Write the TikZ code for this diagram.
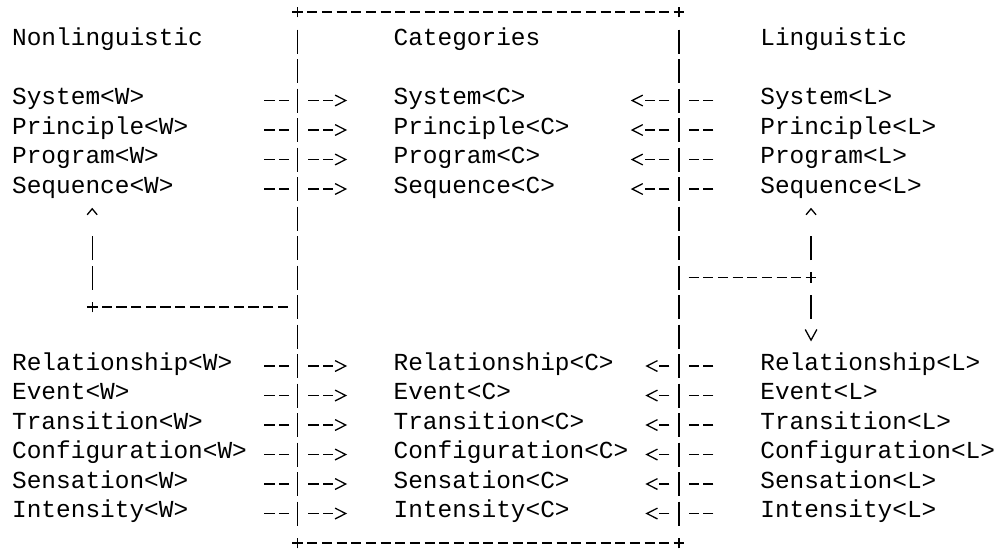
\documentclass[tikz,border=0pt]{standalone}
\usepackage{fontspec}
\usepackage{tikz}
\usetikzlibrary{arrows.meta}

\newfontfamily\asciifont{Liberation Mono}
\newcommand{\monofont}{\asciifont\fontsize{12.225pt}{14.75pt}\selectfont}
\newcommand{\plusmark}[1]{\draw (#1) ++(-2.7pt,0) -- ++(5.4pt,0) (#1) ++(0,-2.7pt) -- ++(0,5.4pt);}

\begin{document}
\begin{tikzpicture}[x=7.335pt,y=-14.75pt,line width=0.65pt,
    every node/.style={font=\monofont,inner sep=0pt,anchor=mid west},
    wlab/.style={text width=117.36pt,align=left},
    clab/.style={text width=117.36pt,align=left},
    hline/.style={dash pattern=on 5.08pt off 2.255pt,shorten <=4.795pt,shorten >=4.795pt},
    vline/.style={dash pattern=on 12pt off 2.75pt,shorten <=8.75pt,shorten >=8.75pt},
    gt/.style={-{Straight Barb[length=5.3pt,width=5.4pt]}},
    wtoc/.style={gt,dash pattern=on 5.08pt off 2.255pt on 5.08pt off 9.59pt on 5.08pt off 2.255pt on 5.08pt off 40pt,shorten <=8.46pt,shorten >=22.91pt},
    ltoc/.style={gt,dash pattern=on 5.08pt off 2.255pt on 5.08pt off 9.59pt on 5.08pt off 2.255pt on 5.08pt off 40pt,shorten <=23.13pt,shorten >=0.9pt},
    ltocs/.style={gt,dash pattern=on 5.08pt off 2.255pt on 5.08pt off 9.59pt on 5.08pt off 40pt,shorten <=23.13pt,shorten >=8.24pt},
    uptip/.style={-{Straight Barb[length=3pt,width=5pt]},shorten <=8.75pt,shorten >=4.36pt},
    downtip/.style={-{Straight Barb[length=5.3pt,width=5.8pt]},shorten <=8.75pt,shorten >=5.25pt}]

    \path[use as bounding box,fill=white] (-0.784,-0.407) rectangle (67.38,18.373);

    \coordinate (btl) at (19.5,0);
    \coordinate (btr) at (45.5,0);
    \coordinate (bbl) at (19.5,18);
    \coordinate (bbr) at (45.5,18);
    \coordinate (lcorner) at (5.5,10);
    \coordinate (rcorner) at (54.5,9);

    \node (wN) [wlab] at (0,1) {Nonlinguistic};
    \node (cN) [clab] at (26,1) {Categories};
    \node (lN) at (51,1) {Linguistic};

    \foreach \nm [count=\i] in {System,Principle,Program,Sequence}{
        \pgfmathtruncatemacro\r{\i+2}
        \node (w\i) [wlab] at (0,\r) {\nm<W>};
        \node (c\i) [clab] at (26,\r) {\nm<C>};
        \node (l\i) at (51,\r) {\nm<L>};
        \draw[wtoc] (w\i.mid east) -- (c\i.mid west);
        \draw[ltoc] (l\i.mid west) -- (c\i.mid east);
    }
    \foreach \nm [count=\i from 5] in {Relationship,Event,Transition,Configuration,Sensation,Intensity}{
        \pgfmathtruncatemacro\r{\i+7}
        \node (w\i) [wlab] at (0,\r) {\nm<W>};
        \node (c\i) [clab] at (26,\r) {\nm<C>};
        \node (l\i) at (51,\r) {\nm<L>};
        \draw[wtoc] (w\i.mid east) -- (c\i.mid west);
        \draw[ltocs] (l\i.mid west) -- (c\i.mid east);
    }

    \draw[hline] (btl) -- (btr);
    \draw[hline] (bbl) -- (bbr);
    \draw[vline] (btl) -- (bbl);
    \draw[vline] (btr) -- (bbr);
    \foreach \p in {btl,btr,bbl,bbr,lcorner,rcorner}{\plusmark{\p}}

    \draw[hline] (btl |- lcorner) -- (lcorner);
    \draw[hline] (btr |- rcorner) -- (rcorner);
    \draw[uptip,dash pattern=on 12pt off 2.75pt on 12pt off 40pt] (lcorner) -- (lcorner |- w4.south);
    \draw[uptip,dash pattern=on 12pt off 40pt] (rcorner) -- (rcorner |- l4.south);
    \draw[downtip,dash pattern=on 12pt off 40pt] (rcorner) -- (rcorner |- l5.north);

\end{tikzpicture}
\end{document}
